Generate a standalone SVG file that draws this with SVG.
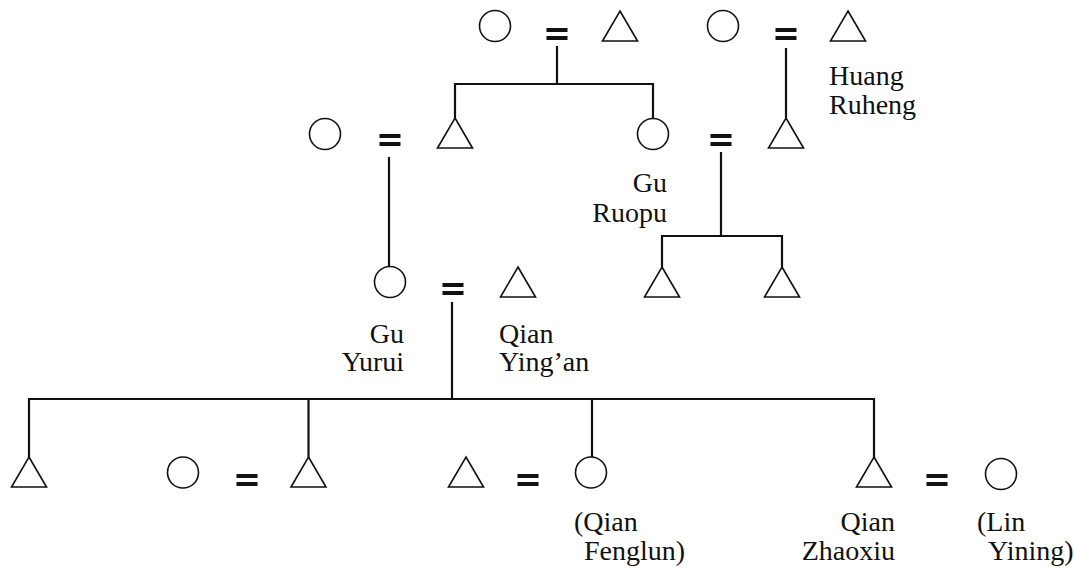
<svg xmlns="http://www.w3.org/2000/svg" width="1074" height="570" viewBox="0 0 1074 570">
<defs>
<style>
.f{fill:none;stroke:#111;stroke-width:1.6}
.c{fill:none;stroke:#111;stroke-width:2.2}
.eq{fill:#111}
.t{font-family:"Liberation Serif","Times New Roman",serif;font-size:28px;fill:#111}
.r{text-anchor:end}
</style>
<symbol id="tri" overflow="visible"><polygon points="0,0 17.5,30 -17.5,30" class="f"/></symbol>
<symbol id="cir" overflow="visible"><circle cx="0" cy="0" r="15.5" class="f"/></symbol>
<symbol id="equ" overflow="visible"><rect x="-10.5" y="-6" width="21" height="4"/><rect x="-10.5" y="2" width="21" height="4"/></symbol>
</defs>
<rect width="1074" height="570" fill="#fff"/>
<g id="connectors">
<path class="c" d="M557,46 V84 M454,84 H654 M455,83 V118 M653,83 V119"/>
<path class="c" d="M786,48 V118"/>
<path class="c" d="M389,157 V267"/>
<path class="c" d="M721,152 V236 M662,236 H782 M662,235 V267 M782,235 V267"/>
<path class="c" d="M452,302 V399 M29,399 H874 M29,398 V457 M308.5,398 V457 M592,398 V457 M874,398 V457"/>
</g>
<g id="n_top_w"><use href="#cir" x="495" y="26"/></g>
<g id="n_top_eq" class="eq"><use href="#equ" x="557" y="34"/></g>
<g id="n_top_h"><use href="#tri" x="620" y="11"/></g>
<g id="n_top2_w"><use href="#cir" x="723" y="26"/></g>
<g id="n_top2_eq" class="eq"><use href="#equ" x="786" y="34"/></g>
<g id="n_top2_h"><use href="#tri" x="848" y="11"/></g>
<g id="n_huang"><text class="t" x="829" y="85">Huang</text><text class="t" x="829" y="114">Ruheng</text></g>
<g id="n_r2_w"><use href="#cir" x="325" y="134"/></g>
<g id="n_r2_eq" class="eq"><use href="#equ" x="390" y="140"/></g>
<g id="n_r2_h"><use href="#tri" x="455" y="118"/></g>
<g id="n_ruopu"><use href="#cir" x="653" y="134"/><text class="t r" x="667" y="192">Gu</text><text class="t r" x="667" y="222">Ruopu</text></g>
<g id="n_r2b_eq" class="eq"><use href="#equ" x="721" y="140"/></g>
<g id="n_r2b_h"><use href="#tri" x="786" y="118"/></g>
<g id="n_yurui"><use href="#cir" x="390" y="282"/><text class="t r" x="404" y="343">Gu</text><text class="t r" x="404" y="371">Yurui</text></g>
<g id="n_r3_eq" class="eq"><use href="#equ" x="453" y="289"/></g>
<g id="n_yingan"><use href="#tri" x="518" y="267"/><text class="t" x="499" y="343">Qian</text><text class="t" x="499" y="371">Ying’an</text></g>
<g id="n_r3_c1"><use href="#tri" x="662" y="267"/></g>
<g id="n_r3_c2"><use href="#tri" x="782" y="267"/></g>
<g id="n_b1"><use href="#tri" x="29" y="457"/></g>
<g id="n_b2w"><use href="#cir" x="183" y="472.5"/></g>
<g id="n_b2eq" class="eq"><use href="#equ" x="247" y="480"/></g>
<g id="n_b2h"><use href="#tri" x="308.5" y="457"/></g>
<g id="n_b3h"><use href="#tri" x="466" y="457"/></g>
<g id="n_b3eq" class="eq"><use href="#equ" x="528" y="480"/></g>
<g id="n_fenglun"><use href="#cir" x="591" y="472.5"/><text class="t" x="574" y="531">(Qian</text><text class="t" x="584" y="560">Fenglun)</text></g>
<g id="n_zhaoxiu"><use href="#tri" x="874" y="457"/><text class="t r" x="895" y="531">Qian</text><text class="t r" x="895" y="560">Zhaoxiu</text></g>
<g id="n_b4eq" class="eq"><use href="#equ" x="937" y="480"/></g>
<g id="n_yining"><use href="#cir" x="1001" y="474"/><text class="t" x="977" y="531">(Lin</text><text class="t" x="988" y="560">Yining)</text></g>
</svg>
